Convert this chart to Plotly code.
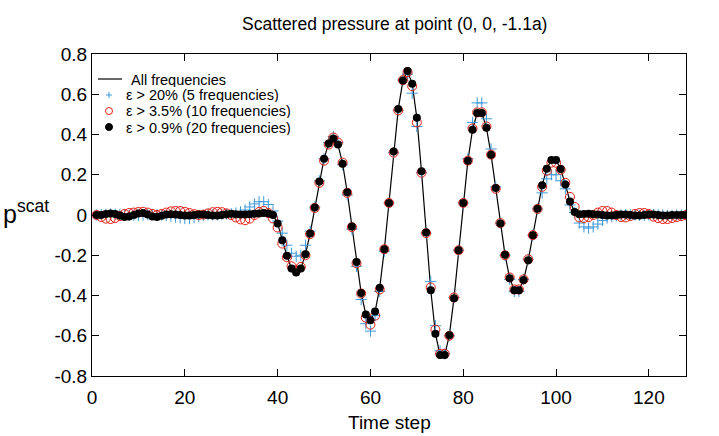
import plotly.graph_objects as go

time_step = list(range(1, 129))

all_freq = [
    0.0, 0.0, 0.005, 0.008, 0.005, -0.002, -0.01, -0.008, 0.0, 0.008,
    0.01, 0.002, -0.008, -0.01, -0.004, 0.002, 0.004, 0.002, 0.0, -0.002,
    -0.002, 0.0, 0.002, 0.002, 0.0, -0.002, -0.002, 0.0, 0.004, 0.006,
    0.004, 0.002, 0.002, 0.004, 0.006, 0.008, 0.01, 0.008, 0.0, -0.042,
    -0.125, -0.203, -0.266, -0.286, -0.266, -0.195, -0.092, 0.037, 0.166, 0.28,
    0.355, 0.38, 0.35, 0.255, 0.113, -0.057, -0.233, -0.387, -0.494, -0.523,
    -0.48, -0.361, -0.17, 0.06, 0.315, 0.527, 0.668, 0.715, 0.652, 0.483,
    0.217, -0.087, -0.374, -0.59, -0.696, -0.696, -0.598, -0.414, -0.175, 0.06,
    0.27, 0.424, 0.507, 0.507, 0.433, 0.30, 0.134, -0.042, -0.198, -0.314,
    -0.374, -0.374, -0.323, -0.225, -0.10, 0.031, 0.148, 0.23, 0.273, 0.273,
    0.228, 0.152, 0.067, 0.015, 0.004, 0.005, 0.006, 0.004, 0.002, 0.0,
    -0.002, -0.002, 0.0, 0.002, 0.002, 0.0, -0.002, -0.002, 0.0, 0.002,
    0.002, 0.0, -0.002, -0.002, 0.0, 0.0, 0.0, 0.0,
]

eps_20 = [
    0.0, 0.002, 0.004, 0.005, 0.004, 0.002, 0.0, -0.002, -0.003, -0.002,
    0.0, 0.002, 0.003, 0.002, 0.0, -0.002, -0.006, -0.01, -0.014, -0.017,
    -0.018, -0.014, -0.008, -0.003, 0.0, 0.0, 0.0, 0.002, 0.004, 0.006,
    0.01, 0.016, 0.025, 0.04, 0.055, 0.066, 0.066, 0.052, 0.02, -0.03,
    -0.09, -0.15, -0.19, -0.205, -0.2, -0.15, -0.08, 0.04, 0.17, 0.28,
    0.36, 0.39, 0.36, 0.25, 0.1, -0.07, -0.255, -0.42, -0.54, -0.577,
    -0.5, -0.38, -0.18, 0.06, 0.31, 0.52, 0.67, 0.7, 0.605, 0.44,
    0.21, -0.09, -0.33, -0.55, -0.675, -0.69, -0.6, -0.41, -0.175, 0.06,
    0.28, 0.46, 0.557, 0.557, 0.478, 0.328, 0.14, -0.04, -0.2, -0.32,
    -0.38, -0.38, -0.32, -0.22, -0.1, 0.03, 0.11, 0.18, 0.2, 0.2,
    0.17, 0.13, 0.05, 0.013, -0.04, -0.059, -0.065, -0.059, -0.045, -0.028,
    -0.015, -0.008, -0.004, 0.0, 0.002, 0.002, 0.0, -0.002, -0.002, 0.0,
    0.002, 0.002, 0.0, -0.002, -0.002, 0.0, 0.0, 0.0,
]

eps_35 = [
    0.0, -0.01, -0.018, -0.02, -0.015, -0.005, 0.005, 0.01, 0.012, 0.015,
    0.016, 0.012, 0.005, 0.0, 0.005, 0.012, 0.018, 0.02, 0.02, 0.016,
    0.01, 0.004, 0.0, 0.002, 0.008, 0.014, 0.016, 0.014, 0.008, 0.0,
    -0.012, -0.022, -0.026, -0.018, 0.0, 0.015, 0.02, 0.01, -0.017, -0.062,
    -0.142, -0.21, -0.255, -0.275, -0.258, -0.2, -0.095, 0.035, 0.16, 0.27,
    0.35, 0.385, 0.36, 0.26, 0.11, -0.06, -0.24, -0.39, -0.51, -0.545,
    -0.5, -0.37, -0.17, 0.06, 0.31, 0.52, 0.67, 0.71, 0.64, 0.46,
    0.21, -0.09, -0.36, -0.57, -0.69, -0.69, -0.6, -0.41, -0.175, 0.06,
    0.27, 0.43, 0.51, 0.51, 0.44, 0.3, 0.13, -0.04, -0.2, -0.31,
    -0.37, -0.37, -0.32, -0.22, -0.1, 0.03, 0.14, 0.22, 0.26, 0.26,
    0.225, 0.16, 0.09, 0.04, -0.012, -0.015, -0.01, 0.0, 0.012, 0.02,
    0.02, 0.012, 0.0, -0.01, -0.012, -0.005, 0.005, 0.01, 0.01, 0.005,
    -0.008, -0.015, -0.02, -0.02, -0.015, -0.01, -0.005, 0.0,
]

eps_09 = [
    0.0, 0.0, 0.005, 0.008, 0.005, -0.002, -0.01, -0.008, 0.0, 0.008,
    0.01, 0.002, -0.008, -0.01, -0.004, 0.002, 0.004, 0.002, 0.0, -0.002,
    -0.002, 0.0, 0.002, 0.002, 0.0, -0.002, -0.002, 0.0, 0.004, 0.006,
    0.004, 0.002, 0.002, 0.004, 0.006, 0.008, 0.01, 0.008, 0.0, -0.042,
    -0.125, -0.203, -0.266, -0.286, -0.266, -0.195, -0.092, 0.037, 0.166, 0.28,
    0.355, 0.38, 0.35, 0.255, 0.113, -0.057, -0.233, -0.387, -0.494, -0.523,
    -0.48, -0.361, -0.17, 0.06, 0.315, 0.527, 0.668, 0.715, 0.652, 0.483,
    0.217, -0.087, -0.374, -0.59, -0.696, -0.696, -0.598, -0.414, -0.175, 0.06,
    0.27, 0.424, 0.507, 0.507, 0.433, 0.30, 0.134, -0.042, -0.198, -0.314,
    -0.374, -0.374, -0.323, -0.225, -0.10, 0.031, 0.148, 0.23, 0.273, 0.273,
    0.228, 0.152, 0.067, 0.015, 0.004, 0.005, 0.006, 0.004, 0.002, 0.0,
    -0.002, -0.002, 0.0, 0.002, 0.002, 0.0, -0.002, -0.002, 0.0, 0.002,
    0.002, 0.0, -0.002, -0.002, 0.0, 0.0, 0.0, 0.0,
]

series_names = [
    "All frequencies",
    "ε > 20% (5 frequencies)",
    "ε > 3.5% (10 frequencies)",
    "ε > 0.9% (20 frequencies)",
]

x_tickvals = [0, 20, 40, 60, 80, 100, 120]
y_tickvals = [-0.8, -0.6, -0.4, -0.2, 0, 0.2, 0.4, 0.6, 0.8]
y_ticktext = ["-0.8", "-0.6", "-0.4", "-0.2", "0", "0.2", "0.4", "0.6", "0.8"]

BLUE = "#3d9ad9"
RED = "#e51e10"
FONT = "Liberation Sans, Arial, sans-serif"

# plot area in pixels (for placing the key and labels)
W, H = 719, 436
L, R, T, B = 92, 33, 54, 60
PW, PH = W - L - R, H - T - B


def px(xp):
    return (xp - L) / PW


def py(yp):
    return (H - B - yp) / PH


fig = go.Figure()

fig.add_trace(go.Scatter(x=time_step, y=all_freq, mode="lines", name=series_names[0],
                         line=dict(color="black", width=1.2), showlegend=False))
fig.add_trace(go.Scatter(x=time_step, y=eps_20, mode="markers", name=series_names[1],
                         marker=dict(symbol="cross-thin", size=8, line=dict(color=BLUE, width=1)),
                         showlegend=False))
fig.add_trace(go.Scatter(x=time_step, y=eps_35, mode="markers", name=series_names[2],
                         marker=dict(symbol="circle-open", size=9, color=RED, line=dict(width=1)),
                         showlegend=False))
fig.add_trace(go.Scatter(x=time_step, y=eps_09, mode="markers", name=series_names[3],
                         marker=dict(symbol="circle", size=8, color="black"),
                         showlegend=False))

axis_common = dict(showline=True, linecolor="black", linewidth=1, mirror="ticks",
                   ticks="inside", ticklen=7, tickcolor="black", tickwidth=1,
                   showgrid=False, zeroline=False,
                   tickfont=dict(family=FONT, size=19, color="black"))

fig.update_xaxes(range=[0, 128], tickvals=x_tickvals, ticklabelstandoff=4, **axis_common)
fig.update_yaxes(range=[-0.8, 0.8], tickvals=y_tickvals, ticktext=y_ticktext, **axis_common)

# key (drawn manually to match the compact gnuplot key spacing)
key_rows = [79, 95, 111, 127]
key_sym_x = 109
key_text_x = [130, 125, 125, 125]
shapes = [
    dict(type="line", xref="paper", yref="paper", x0=px(98), x1=px(122),
         y0=py(key_rows[0]), y1=py(key_rows[0]), line=dict(color="black", width=1.2)),
    dict(type="line", xref="paper", yref="paper", x0=px(key_sym_x - 3), x1=px(key_sym_x + 3),
         y0=py(key_rows[1]), y1=py(key_rows[1]), line=dict(color=BLUE, width=1)),
    dict(type="line", xref="paper", yref="paper", x0=px(key_sym_x), x1=px(key_sym_x),
         y0=py(key_rows[1] - 3), y1=py(key_rows[1] + 3), line=dict(color=BLUE, width=1)),
    dict(type="circle", xref="paper", yref="paper", x0=px(key_sym_x - 3.5), x1=px(key_sym_x + 3.5),
         y0=py(key_rows[2] - 3.5), y1=py(key_rows[2] + 3.5), line=dict(color=RED, width=1)),
    dict(type="circle", xref="paper", yref="paper", x0=px(key_sym_x - 3.5), x1=px(key_sym_x + 3.5),
         y0=py(key_rows[3] - 3.5), y1=py(key_rows[3] + 3.5), line=dict(color="black", width=1),
         fillcolor="black"),
]

annotations = [
    dict(text="Scattered pressure at point (0, 0, -1.1a)", xref="paper", yref="paper",
         x=px(394), y=py(24), xanchor="center", yanchor="middle",
         showarrow=False, font=dict(family=FONT, size=17.5, color="black")),
    dict(text="Time step", xref="paper", yref="paper",
         x=px(389), y=py(423), xanchor="center", yanchor="middle",
         showarrow=False, font=dict(family=FONT, size=19, color="black")),
    dict(text="p<sup>scat</sup>", xref="paper", yref="paper",
         x=px(1), y=py(212), xanchor="left", yanchor="middle",
         showarrow=False, font=dict(family=FONT, size=25, color="black")),
]
for name, ty, tx in zip(series_names, key_rows, key_text_x):
    annotations.append(dict(text=name, xref="paper", yref="paper", x=px(tx), y=py(ty),
                            xanchor="left", yanchor="middle", showarrow=False,
                            height=15, borderpad=0, valign="middle",
                            font=dict(family=FONT, size=14.5, color="black")))

fig.update_layout(
    width=W, height=H,
    margin=dict(l=L, r=R, t=T, b=B),
    paper_bgcolor="white", plot_bgcolor="white",
    font=dict(family=FONT, color="black"),
    showlegend=False,
    shapes=shapes,
    annotations=annotations,
)

fig.write_html("out.html")
